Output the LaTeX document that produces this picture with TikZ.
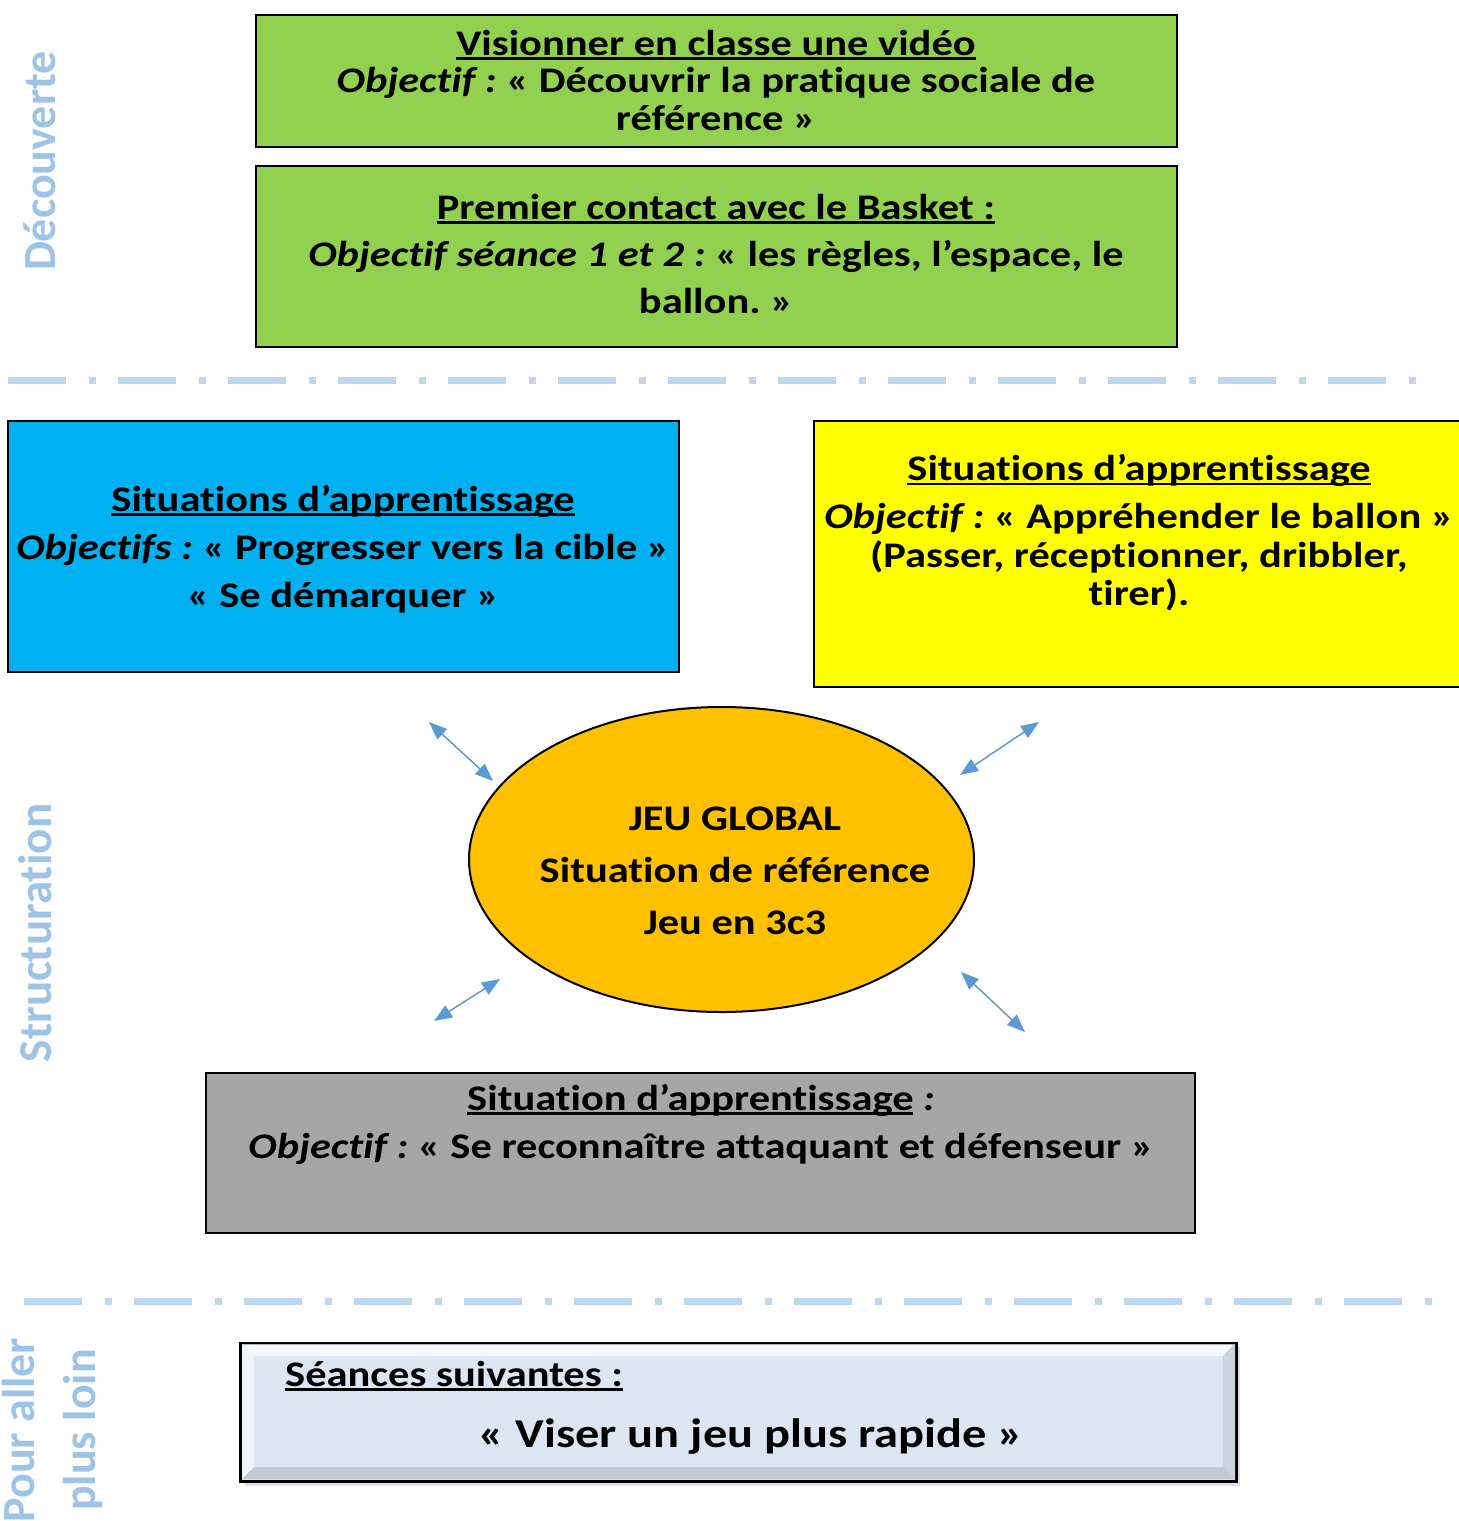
\documentclass[tikz,border=0pt]{standalone}
\usepackage{fontspec}
\setmainfont{Carlito}[FakeStretch=1.18, Ligatures={NoCommon}]
\newfontfamily\sidefont{Carlito}[Ligatures={NoCommon}]
\usetikzlibrary{shapes.geometric,arrows.meta,shadows}
\definecolor{cgreen}{HTML}{92D050}
\definecolor{cblue}{HTML}{00B0F0}
\definecolor{cyellow}{HTML}{FFFF00}
\definecolor{corange}{HTML}{FFC000}
\definecolor{cgray}{HTML}{A6A6A6}
\definecolor{cpale}{HTML}{DCE6F2}
\definecolor{cside}{HTML}{9DC3E6}
\definecolor{cdash}{HTML}{BDD7EE}
\definecolor{carrow}{HTML}{5B9BD5}
\newcommand\myul[1]{\setbox0\hbox{#1}\rlap{\rule[-4.5pt]{\wd0}{2.8pt}}\box0\relax}
\frenchspacing
\begin{document}
\begin{tikzpicture}[x=1pt,y=-1pt,
  box/.style={draw=black, line width=2pt, inner sep=0pt},
  txt/.style={align=center, inner sep=0pt, font=\bfseries\fontsize{36}{47}\selectfont},
  side/.style={rotate=90, text=cside, inner sep=0pt, font=\sidefont\bfseries\fontsize{46}{50}\selectfont},
  sepline/.style={draw=cdash, line width=7pt, dash pattern=on 58pt off 22.5pt on 7pt off 22.5pt},
  arr/.style={draw=carrow, line width=1.5pt, {Triangle[length=18pt,width=14pt]}-{Triangle[length=18pt,width=14pt]}}]
\useasboundingbox (0,0) rectangle (1459,1521);
\fill[white] (0,0) rectangle (1459,1521);

% separators
\coordinate (s1a) at (8,380); \coordinate (s1b) at (1417,380);
\coordinate (s2a) at (24,1301); \coordinate (s2b) at (1433,1301);
\draw[sepline] (s1a) -- (s1b);
\draw[sepline] (s2a) -- (s2b);

% side labels
\node[side] (lab1) at (40,161) {Découverte};
\node[side, font=\sidefont\bfseries\fontsize{47}{50}\selectfont] (lab2) at (35,933) {Structuration};
\node[side, align=center, font=\sidefont\bfseries\fontsize{46}{61}\selectfont] (lab3) at (52,1430) {Pour aller\\plus loin};

% green boxes
\node[box, fill=cgreen, minimum width=921pt, minimum height=132pt] (g1) at (716.5,81) {};
\node[txt, font=\bfseries\fontsize{36}{37.5}\selectfont] (g1t) at (716,80)
  {\myul{Visionner en classe une vidéo}\\\textit{Objectif :} « Découvrir la pratique sociale de\\référence »};
\node[box, fill=cgreen, minimum width=921pt, minimum height=181pt] (g2) at (716.5,256.5) {};
\node[txt] (g2t) at (716,254)
  {\myul{Premier contact avec le Basket :}\\\textit{Objectif séance 1 et 2 :} « les règles, l’espace, le\\ballon. »};

% blue box
\node[box, fill=cblue, minimum width=671pt, minimum height=251pt] (bl) at (343.5,546.5) {};
\node[txt, font=\bfseries\fontsize{36}{48}\selectfont] (blt) at (343,549)
  {\myul{Situations d’apprentissage}\\\textit{Objectifs :} « Progresser vers la cible »\\« Se démarquer »};

% yellow box
\node[box, fill=cyellow, minimum width=650pt, minimum height=266pt] (ye) at (1139,554) {};
\node[txt, font=\bfseries\fontsize{36}{38.5}\selectfont] (yet) at (1139,533)
  {\myul{Situations d’apprentissage}\\[9.5pt]\textit{Objectif :} « Appréhender le ballon »\\(Passer, réceptionner, dribbler,\\tirer).};

% ellipse
\node[ellipse, draw=black, line width=2pt, fill=corange, minimum width=505pt, minimum height=305pt, inner sep=0pt] (el) at (721.5,859.5) {};
\node[txt, font=\bfseries\fontsize{36}{52}\selectfont] (elt) at (735,871)
  {JEU GLOBAL\\Situation de référence\\Jeu en 3c3};

% arrows
\coordinate (nw1) at (429,722); \coordinate (nw2) at (493,781);
\coordinate (ne1) at (1039,722); \coordinate (ne2) at (960,775);
\coordinate (sw1) at (500,979); \coordinate (sw2) at (434,1021);
\coordinate (se1) at (961,972); \coordinate (se2) at (1025,1032);
\draw[arr] (nw1) -- (nw2);
\draw[arr] (ne1) -- (ne2);
\draw[arr] (sw1) -- (sw2);
\draw[arr] (se1) -- (se2);

% gray box
\node[box, fill=cgray, minimum width=989pt, minimum height=160pt] (gr) at (700.5,1153) {};
\node[txt, font=\bfseries\fontsize{36}{48}\selectfont] (grt) at (701,1124)
  {\myul{Situation d’apprentissage} \textit{:}\\\textit{Objectif :} « Se reconnaître attaquant et défenseur »};

% bottom beveled box
\fill[black!20, opacity=0.6] (245,1347) rectangle (1240,1486);
\node[box, fill=cpale, minimum width=995pt, minimum height=137pt] (bt) at (738.5,1412) {};
\fill[white, opacity=0.7] (242,1343) -- (1235,1343) -- (1223,1356) -- (254,1356) -- cycle;
\fill[white!60!cpale] (242,1343) -- (254,1356) -- (254,1467) -- (242,1479) -- cycle;
\fill[black!8!cpale] (1235,1343) -- (1235,1479) -- (1223,1467) -- (1223,1356) -- cycle;
\fill[black!12!cpale] (242,1479) -- (254,1467) -- (1223,1467) -- (1235,1479) -- cycle;
\draw[black, line width=2pt] (bt.south west) rectangle (bt.north east);
\node[inner sep=0pt, anchor=base west, font=\bfseries\fontsize{36}{40}\selectfont] (btt1) at (285,1386) {\myul{Séances suivantes :}};
\node[inner sep=0pt, anchor=base, font=\bfseries\fontsize{41}{45}\selectfont] (btt2) at (751,1447) {« Viser un jeu plus rapide »};
\end{tikzpicture}
\end{document}
